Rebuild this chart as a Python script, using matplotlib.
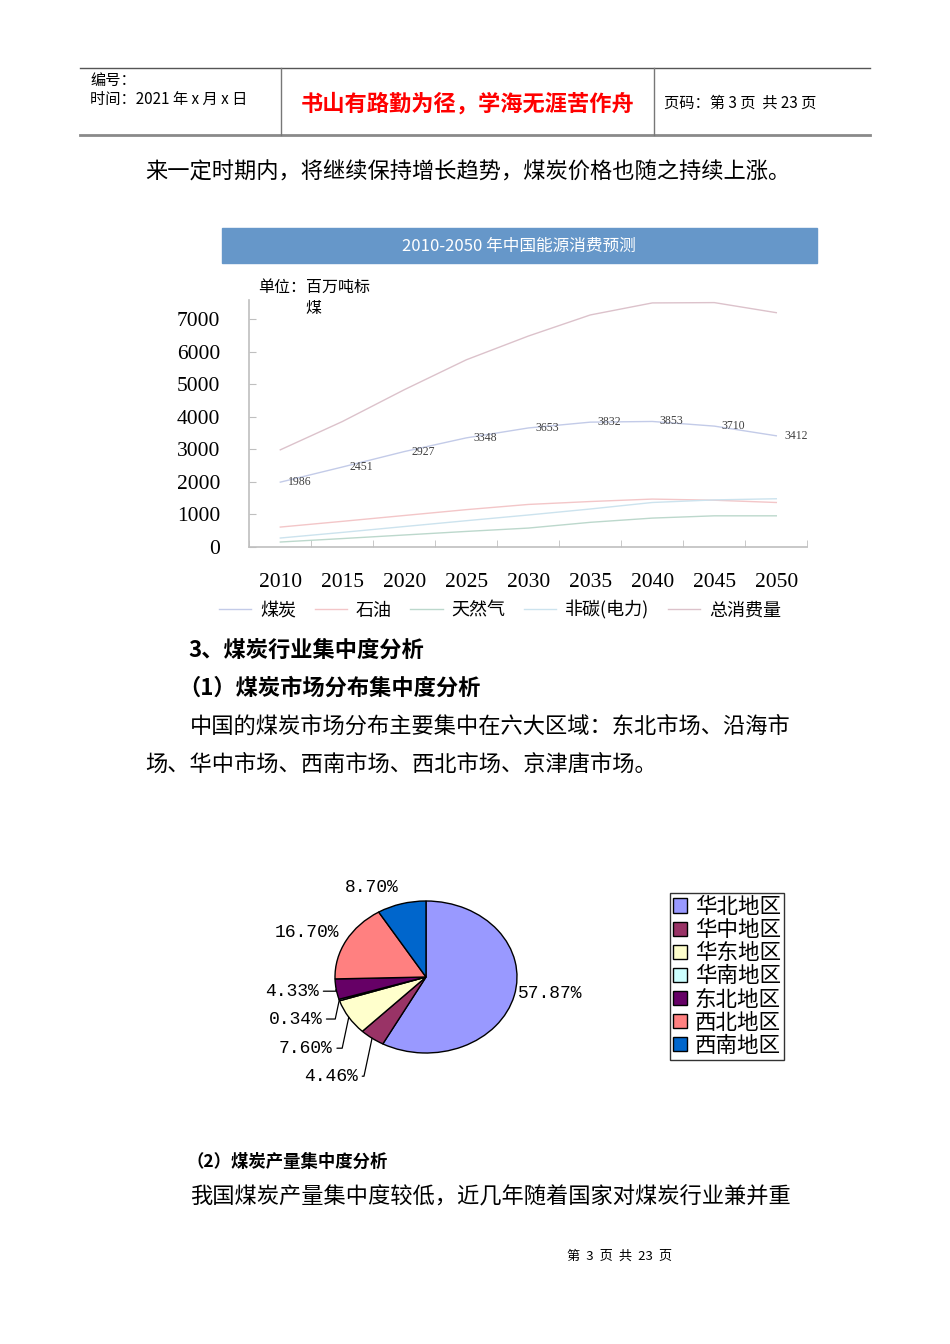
import matplotlib.pyplot as plt
from matplotlib.lines import Line2D
import numpy as np

plt.rcParams['font.family'] = ['Noto Sans CJK SC', 'DejaVu Sans']

# line chart data (百万吨标煤)
years = ['2010', '2015', '2020', '2025', '2030', '2035', '2040', '2045', '2050']
coal = [1986, 2451, 2927, 3348, 3653, 3832, 3853, 3710, 3412]
oil = [604, 780, 960, 1140, 1300, 1390, 1465, 1430, 1360]
gas = [144, 250, 360, 470, 573, 750, 880, 950, 950]
non_carbon = [267, 440, 620, 800, 975, 1160, 1360, 1440, 1475]
total = [2980, 3850, 4830, 5750, 6480, 7130, 7500, 7510, 7200]
series_names = ['煤炭', '石油', '天然气', '非碳(电力)', '总消费量']
series_colors = ['#c3cbe8', '#f3c6c8', '#bcd8cc', '#cce3ee', '#dcc2cb']

# pie chart data
regions = ['华北地区', '华中地区', '华东地区', '华南地区', '东北地区', '西北地区', '西南地区']
shares = [57.87, 4.46, 7.60, 0.34, 4.33, 16.70, 8.70]
pie_colors = ['#9999ff', '#993366', '#ffffcc', '#ccffff', '#660066', '#ff8080', '#0066cc']

W, H = 950, 1344
fig = plt.figure(figsize=(W / 100, H / 100), dpi=100)


def fx(x):
    return x / W


def fy(y):
    return 1 - y / H


def txt(x, y, s, size=16, **kw):
    fig.text(fx(x), fy(y), s, fontsize=size, va='center', **kw)


# page header
fig.add_artist(Line2D([fx(80), fx(870)], [fy(68), fy(68)], color='#555555', lw=1))
fig.add_artist(Line2D([fx(80), fx(870)], [fy(135), fy(135)], color='#8a8a8a', lw=2))
for xv in (281, 654):
    fig.add_artist(Line2D([fx(xv), fx(xv)], [fy(68), fy(135)], color='#777777', lw=1))
txt(90, 80, '编号：', size=11)
txt(90, 99, '时间：2021 年 x 月 x 日', size=11)
txt(468, 104, '书山有路勤为径，学海无涯苦作舟', size=16, color='#ff0000',
    ha='center', fontweight='bold')
txt(664, 103, '页码：第 3 页  共 23 页', size=11)

txt(145, 172, '来一定时期内，将继续保持增长趋势，煤炭价格也随之持续上涨。')

# chart banner
fig.add_artist(plt.Rectangle((fx(222), fy(263)), fx(595), 35 / H,
                             color='#6697c9', transform=fig.transFigure))
txt(519, 246, '2010-2050 年中国能源消费预测', size=12, color='white', ha='center')
txt(258, 287, '单位：百万吨标', size=11.5)
txt(305, 308, '煤', size=11.5)

# line chart
ax = fig.add_axes([fx(249.3), fy(546.7), fx(558), 246.7 / H])
x = np.arange(len(years))
all_series = [coal, oil, gas, non_carbon, total]
for vals, name, col in zip(all_series, series_names, series_colors):
    ax.plot(x, vals, color=col, lw=1, label=name)
for xi, v in zip(x, coal):
    ax.annotate(str(v), (xi, v), xytext=(14, 0), textcoords='offset points',
                va='center', ha='center', fontsize=8.5, color='#404040',
                family=['Liberation Serif'])

ax.set_xlim(-0.5, len(years) - 0.5)
ax.set_ylim(0, 7590)
ax.set_yticks(range(0, 8000, 1000))
ax.set_yticklabels([str(v) for v in range(0, 8000, 1000)],
                   family=['Liberation Serif'], fontsize=15.5)
ax.set_xticks(x)
ax.set_xticklabels(years, family=['Liberation Serif'], fontsize=15.5)
ax.set_xticks(np.arange(-0.5, len(years)), minor=True)
ax.tick_params(axis='x', which='major', length=0, pad=19)
ax.tick_params(axis='x', which='minor', direction='in', length=5, color='#bfbfbf')
ax.tick_params(axis='y', direction='in', length=5, color='#bfbfbf', pad=21)
for s in ('top', 'right'):
    ax.spines[s].set_visible(False)
for s in ('left', 'bottom'):
    ax.spines[s].set_color('#bfbfbf')
    ax.spines[s].set_linewidth(1.2)
ax.legend(loc='center', bbox_to_anchor=(fx(500), fy(610)), bbox_transform=fig.transFigure,
          ncol=5, frameon=False, fontsize=13, handlelength=1.8, handletextpad=0.5,
          columnspacing=1.0)

# section text
txt(188, 650, '3、煤炭行业集中度分析', size=16, fontweight='bold')
txt(178, 688, '（1）煤炭市场分布集中度分析', size=16, fontweight='bold')
txt(190, 726, '中国的煤炭市场分布主要集中在六大区域：东北市场、沿海市')
txt(145, 764, '场、华中市场、西南市场、西北市场、京津唐市场。')

# pie chart
pax = fig.add_axes([fx(335), fy(1053), fx(182), 152 / H])
wedges, _ = pax.pie(shares, colors=pie_colors, startangle=90, counterclock=False,
                    wedgeprops=dict(edgecolor='black', linewidth=1))
pax.set_aspect('auto')
pax.set_xlim(-1, 1)
pax.set_ylim(-1, 1)
pax.axis('off')

# label offsets in pixels (dx, dy downwards), alignment, leader line
label_style = [(4, -2, 'left', False), (-14, 38, 'right', True), (-16, 31, 'right', True),
               (-17, 19, 'right', True), (-17, 2, 'right', True), (-7, -8, 'right', False),
               (-30, -16, 'center', False)]
for w, v, (dx, dy, ha, leader) in zip(wedges, shares, label_style):
    ang = np.deg2rad((w.theta1 + w.theta2) / 2)
    anchor = (np.cos(ang), np.sin(ang))
    props = None
    if leader:
        props = dict(arrowstyle='-', color='black', lw=0.9, shrinkA=1, shrinkB=0,
                     relpos=(1, 0.5), connectionstyle='angle,angleA=0,angleB=78,rad=0')
    pax.annotate(f'{v:.2f}%', anchor, xytext=(dx * 0.72, -dy * 0.72),
                 textcoords='offset points', ha=ha, va='center', fontsize=13,
                 family=['Liberation Mono'], arrowprops=props)

leg = pax.legend(wedges, regions, loc='upper left', bbox_to_anchor=(fx(670), fy(893)),
                 bbox_transform=fig.transFigure, fontsize=15.5, frameon=True, fancybox=False,
                 handlelength=0.65, handleheight=0.65, handletextpad=0.35, labelspacing=0.05,
                 borderpad=0.15, borderaxespad=0)
leg.get_frame().set_edgecolor('black')
leg.get_frame().set_linewidth(1)

txt(186, 1162, '（2）煤炭产量集中度分析', size=12.5, fontweight='bold')
txt(190, 1197, '我国煤炭产量集中度较低，近几年随着国家对煤炭行业兼并重')
txt(620, 1256, '第  3  页  共  23  页', size=9.5, ha='center')

fig.savefig('out.png', dpi=100)
